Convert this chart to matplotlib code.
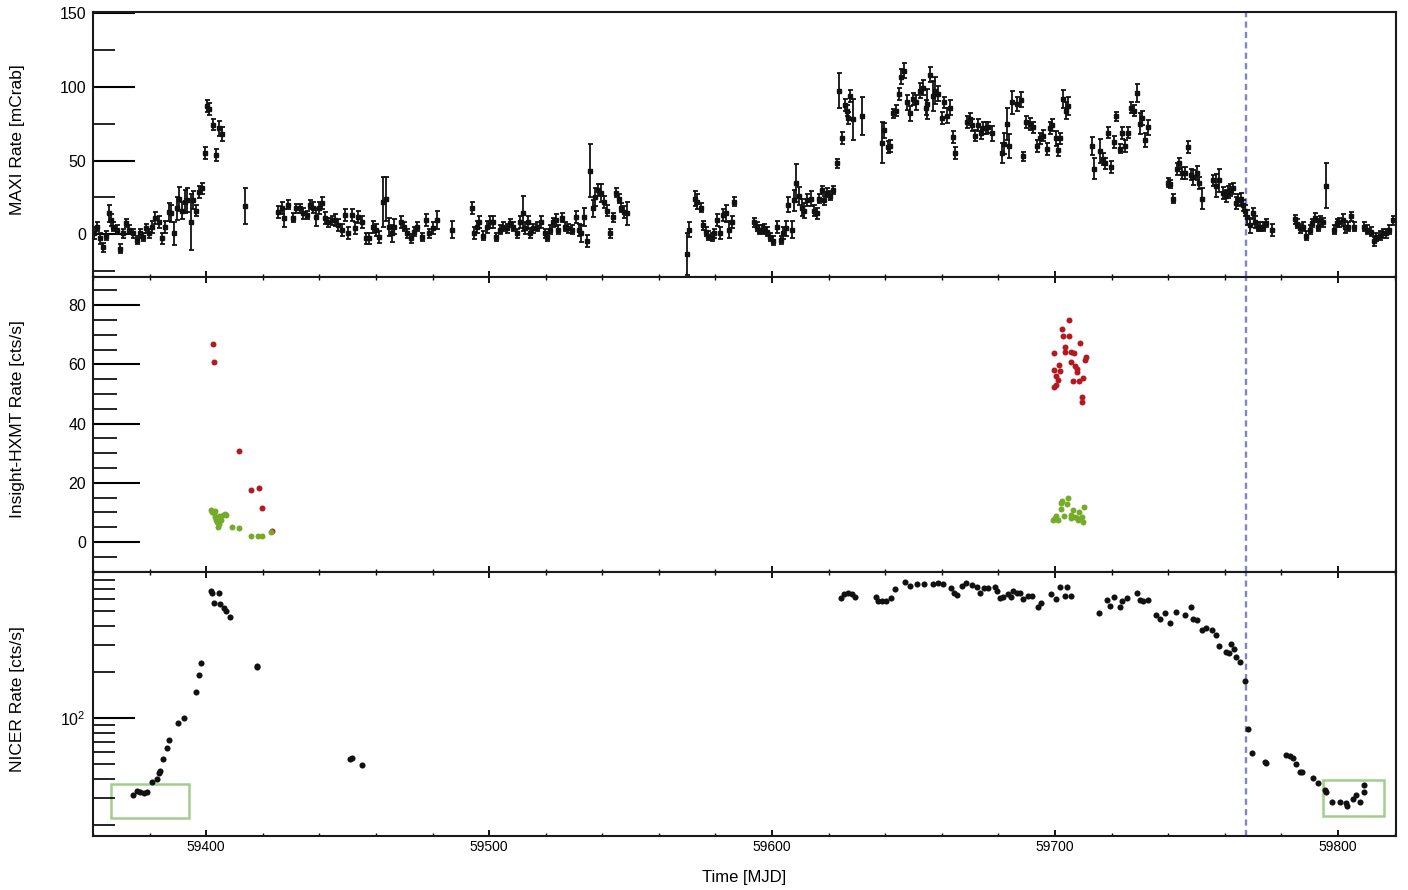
import matplotlib
matplotlib.use('Agg')
import matplotlib.pyplot as plt
from matplotlib.patches import Rectangle
from matplotlib.ticker import MultipleLocator, LogLocator, NullFormatter

plt.rcParams['font.family'] = ['Liberation Sans', 'DejaVu Sans']

# MAXI light curve (mCrab)
maxi_mjd = [
    59360.4, 59361.4, 59362.5, 59363.5, 59364.6, 59365.5, 59366.2, 59367.0, 59368.4, 59369.5,
    59370.5, 59371.7, 59372.8, 59374.0, 59375.4, 59376.6, 59377.5, 59378.7, 59379.9, 59380.8,
    59382.0, 59383.2, 59384.4, 59385.5, 59386.7, 59387.7, 59388.6, 59389.6, 59390.5, 59391.4,
    59392.4, 59393.3, 59394.5, 59395.4, 59396.4, 59397.6, 59398.5, 59399.6, 59400.4, 59401.1,
    59402.5, 59403.5, 59404.6, 59405.6, 59413.6,
    59425.5, 59426.7, 59427.5, 59429.0, 59430.6, 59431.7, 59433.1, 59434.3, 59435.5, 59436.7,
    59437.8, 59438.8, 59440.0, 59440.8, 59442.0, 59443.1, 59444.3, 59445.5, 59446.7, 59447.9,
    59449.0, 59450.2, 59451.4, 59452.6, 59453.7, 59454.9, 59456.5, 59457.6, 59458.8, 59460.0,
    59461.2, 59462.4, 59463.5, 59464.7, 59465.5, 59466.4, 59468.7, 59469.9, 59471.0, 59472.3,
    59473.4, 59474.6, 59476.1, 59477.7, 59478.8, 59480.0, 59481.4, 59486.7,
    59493.8, 59494.6, 59495.6, 59496.5, 59497.9, 59499.1, 59500.3, 59501.5, 59502.6, 59503.8,
    59505.0, 59506.2, 59507.3, 59508.5, 59509.7, 59510.9, 59511.8, 59512.6, 59513.6, 59514.6,
    59515.6, 59516.8, 59518.5, 59519.7, 59520.5, 59521.5, 59522.7, 59523.6, 59524.4, 59525.6,
    59526.8, 59528.0, 59529.4, 59530.7, 59531.8, 59532.5, 59533.7, 59534.7, 59535.6, 59536.6,
    59537.5, 59538.6, 59539.5, 59540.6, 59541.5, 59542.7, 59543.6, 59544.8, 59545.8, 59546.7,
    59547.6, 59548.6,
    59569.8, 59570.7, 59572.7, 59573.6, 59574.7, 59575.7, 59576.5, 59577.4, 59578.6, 59579.4,
    59580.6, 59581.6, 59582.7, 59583.7, 59584.6, 59585.7, 59586.7,
    59593.6, 59594.5, 59595.4, 59596.4, 59597.3, 59598.3, 59599.2, 59600.4, 59601.8, 59603.0,
    59603.9, 59604.9, 59605.7, 59606.9, 59607.7, 59608.6, 59609.6, 59610.5, 59611.3, 59612.2,
    59613.9, 59614.7, 59615.7, 59616.6, 59617.6, 59618.5, 59619.5, 59620.4, 59621.6, 59622.8,
    59623.7, 59624.7, 59625.6, 59626.3, 59627.0, 59627.7, 59628.7, 59631.6, 59638.7, 59639.6,
    59640.8, 59641.6, 59642.8, 59643.7, 59644.8, 59645.7, 59646.7, 59647.7, 59648.9, 59649.9,
    59650.8, 59652.2, 59653.2, 59654.3, 59654.9, 59655.8, 59656.7, 59657.6, 59658.6, 59659.9,
    59660.7, 59661.9, 59662.8, 59663.8, 59664.7, 59668.9, 59669.9, 59670.8, 59671.8, 59672.7,
    59673.7, 59674.6, 59675.5, 59676.4, 59677.8,
    59681.1, 59681.9, 59682.9, 59683.8, 59684.9, 59686.6, 59687.8, 59688.7, 59689.9, 59691.1,
    59692.3, 59693.8, 59694.6, 59695.8, 59697.0, 59698.2, 59699.1, 59700.3, 59701.1, 59701.9,
    59702.9, 59703.8, 59704.6, 59712.9, 59713.8, 59715.8, 59716.8, 59717.6, 59718.8, 59719.7,
    59720.8, 59721.7, 59722.9, 59723.8, 59724.7, 59725.7, 59726.9, 59727.8, 59728.8, 59729.9,
    59730.9, 59731.8, 59732.9,
    59740.0, 59740.8, 59741.8, 59743.0, 59743.9, 59745.0, 59745.9, 59746.9, 59747.9, 59748.8,
    59750.0, 59750.9, 59751.9, 59755.9, 59756.9, 59757.8, 59759.4, 59760.3, 59761.2, 59762.0,
    59762.9, 59763.9, 59764.7, 59765.6, 59766.5, 59767.3, 59768.0, 59768.8, 59769.8, 59770.7,
    59771.7, 59772.6, 59773.5, 59774.7, 59776.6, 59784.7, 59785.6, 59786.7, 59787.6, 59788.8,
    59790.0, 59790.9, 59791.8, 59792.8, 59793.7, 59794.6, 59795.8, 59798.7, 59799.5, 59800.5,
    59801.6, 59802.5, 59803.7, 59804.6, 59805.6, 59809.2, 59810.4, 59811.6, 59812.8, 59813.6,
    59814.7, 59815.9, 59817.0, 59818.2, 59819.4,
]
maxi_rate = [
    0.7, 5, -3, -9, -1, 14, 9.5, 5, 3, -10,
    0.5, 7.5, 3, 0.5, -4, 0.5, -2, 4, 0.5, 5,
    11, 8, -3, 5, 15, 14, 0.5, 17.5, 24, 16,
    22, 23, 8, 23, 16, 28.5, 31, 55, 87, 85,
    74.5, 54, 72, 68, 19,
    15, 17.5, 11, 20, 11, 17.5, 17.5, 14, 13, 20,
    18, 11.5, 17.5, 21, 11, 8, 9.5, 9.5, 6, 3,
    13, 0.5, 13, 4, 11.5, 8, -3, -3, 5, 3,
    -2, 22, 24, 5, 0.5, 5, 8, 5, 0.5, -3,
    1.5, 5, -2, 9.5, 0.5, 4, 9.5, 3,
    17.5, 0.5, 5, 8, -1, 5, 8, 8, -2, 3,
    5, 4, 7.5, 5, 0.5, 8, 14, 4, 8, 0.5,
    4, 5, 8, 0.5, -2, 3, 8, 9.5, 3, 11,
    5, 4, 3, 11.5, 3, 0.5, 11.5, -4.5, 43, 17.5,
    25, 30, 28, 22, 16, 0.5, 11.5, 28, 24, 18,
    15, 14,
    -13.5, 3, 24, 22, 18, 6, 1.5, -1, -2, 0.5,
    9.5, 0.5, 13, 14, 3, 8, 22,
    8, 5, 3, 3, 4, 1.5, -2, -4.5, 5, -4,
    0.5, 4, 20, 3, 23, 34.5, 26, 18, 16, 23,
    24, 16, 14, 24, 30, 23, 28, 26, 30, 48,
    97.5, 65.5, 88, 84, 79, 94, 78, 80.5, 62, 70.5,
    59, 60, 82, 84, 95.5, 107, 111, 89.5, 82, 92,
    89.5, 97.5, 99.5, 86, 88.5, 108.5, 94, 97.5, 95.5, 79,
    89.5, 80.5, 86, 66, 55, 76, 78.5, 74, 67, 74,
    68.5, 72, 72, 72.5, 68.5,
    55, 61.5, 75, 60, 89.5, 88.5, 91.5, 53, 76, 75,
    72.5, 60, 65, 67, 58, 72, 74, 65, 57, 65,
    92, 84, 87, 60, 44.5, 56.5, 51, 48, 69, 45.5,
    62.5, 80, 58, 68.5, 60, 69, 86, 84, 96, 75,
    79, 64, 72.5,
    35, 34, 24, 44.5, 48, 41.5, 41.5, 59, 40.5, 38.5,
    41.5, 34.5, 24, 36.5, 33, 36.5, 28, 26, 28.5, 30,
    31, 21, 23, 24, 19.5, 16, 11.5, 6, 14, 8,
    5, 5, 5, 7.5, 3, 10, 7, 4, 5, -1,
    3, 7.5, 11, 5, 9.5, 8, 33, 3, 7.5, 8,
    9.5, 5, 5, 12, 5, 5, 3, 1.5, -5, -2,
    -1, 0.5, 0.5, 3, 9.5,
]
maxi_err = [
    4, 3, 4, 3, 3, 6, 4, 3, 3, 3,
    3, 3, 3, 3, 3, 3, 3, 3, 3, 4,
    4, 4, 4, 4, 6, 6, 8, 8, 8, 6,
    8, 8, 19, 6, 4, 4, 4, 4, 4, 4,
    4, 4, 5, 5, 12,
    4, 4, 6, 3, 3, 3, 3, 4, 3, 3,
    4, 6, 4, 4, 4, 3, 3, 4, 4, 4,
    4, 4, 4, 4, 4, 4, 4, 4, 4, 4,
    4, 17, 15, 6, 6, 5, 4, 3, 3, 3,
    3, 3, 3, 4, 3, 4, 6, 6,
    4, 4, 4, 4, 3, 4, 4, 4, 3, 3,
    3, 3, 3, 3, 3, 4, 12, 4, 4, 3,
    3, 3, 4, 3, 3, 3, 3, 4, 3, 3,
    3, 3, 3, 4, 4, 6, 6, 4, 18, 6,
    6, 4, 6, 4, 4, 3, 3, 3, 3, 3,
    4, 8,
    14, 5, 5, 5, 3, 3, 3, 3, 3, 3,
    4, 4, 4, 6, 6, 4, 3,
    3, 3, 3, 3, 3, 3, 3, 3, 4, 3,
    4, 5, 5, 6, 7, 13, 6, 6, 5, 4,
    5, 4, 4, 3, 3, 3, 3, 3, 3, 3,
    12, 4, 4, 4, 4, 4, 14, 13, 14, 5,
    4, 4, 3, 4, 4, 5, 5, 5, 5, 4,
    5, 5, 5, 5, 10, 5, 10, 9, 5, 4,
    4, 5, 5, 4, 4, 4, 4, 4, 4, 4,
    4, 4, 4, 4, 5,
    7, 7, 11, 8, 8, 5, 5, 3, 4, 4,
    4, 4, 4, 4, 4, 4, 4, 5, 4, 4,
    6, 6, 6, 6, 7, 8, 4, 4, 4, 4,
    4, 3, 3, 4, 4, 4, 4, 4, 6, 7,
    5, 5, 5,
    3, 3, 3, 4, 4, 4, 4, 4, 4, 5,
    5, 4, 7, 4, 8, 8, 4, 4, 4, 4,
    4, 4, 4, 4, 4, 4, 5, 5, 4, 4,
    3, 3, 3, 3, 4, 3, 3, 3, 3, 3,
    3, 3, 3, 3, 3, 3, 15, 3, 3, 3,
    4, 4, 3, 3, 3, 3, 3, 3, 3, 3,
    3, 3, 3, 3, 3,
]

# Insight-HXMT rates (cts/s)
hxmt_red_mjd = [59402.3, 59402.8, 59411.7, 59415.7, 59418.5, 59419.7, 59423.1,
                59699.6, 59699.6, 59699.7, 59700.3, 59700.5, 59701.0, 59701.5, 59701.7,
                59702.3, 59702.9, 59703.6, 59703.6, 59704.8, 59705.0, 59705.5, 59705.8,
                59706.4, 59706.7, 59707.0, 59707.6, 59707.8, 59708.5, 59708.8, 59709.6,
                59709.6, 59709.9, 59710.5, 59710.9]
hxmt_red_rate = [66.9, 60.7, 30.8, 17.6, 18.3, 11.4, 3.8,
                 63.7, 58.1, 52.3, 53.0, 56.1, 54.7, 59.8, 57.8,
                 71.8, 69.6, 65.8, 64.2, 75.0, 69.6, 60.9, 64.3,
                 54.5, 64.0, 59.5, 57.5, 58.3, 54.5, 67.3, 48.9,
                 47.4, 55.3, 61.5, 62.4]
hxmt_green_mjd = [59401.8, 59402.2, 59402.6, 59403.0, 59403.2, 59403.5, 59403.8, 59404.1,
                  59404.4, 59404.7, 59405.3, 59405.8, 59406.6, 59407.1, 59409.2, 59411.7,
                  59415.7, 59418.3, 59419.6, 59422.8,
                  59699.3, 59699.9, 59700.5, 59701.1, 59702.0, 59702.1, 59702.6, 59703.1,
                  59704.4, 59704.6, 59705.5, 59705.8, 59706.4, 59707.0, 59707.6, 59708.2,
                  59708.5, 59709.4, 59709.8, 59710.3]
hxmt_green_rate = [11.0, 10.3, 9.8, 10.5, 8.5, 7.5, 6.8, 5.2,
                   6.2, 8.8, 7.6, 9.0, 9.6, 9.2, 5.1, 4.7,
                   2.0, 2.0, 2.0, 3.3,
                   7.4, 8.0, 8.8, 7.4, 11.1, 13.1, 14.0, 8.8,
                   12.8, 14.8, 8.0, 9.1, 10.8, 8.5, 8.0, 7.4,
                   10.2, 8.5, 6.9, 11.7]

# NICER rates (cts/s)
nicer_mjd = [
    59374.0, 59375.4, 59376.6, 59378.0, 59379.2, 59380.8, 59382.5, 59383.2, 59383.7, 59384.9,
    59386.0, 59386.9, 59390.1, 59392.0, 59396.4, 59397.6, 59398.1, 59401.6, 59402.2, 59402.8,
    59404.5, 59404.8, 59406.3, 59407.0, 59408.3, 59418.1, 59418.1, 59450.7, 59451.5, 59455.0,
    59624.3, 59625.4, 59626.9, 59628.1, 59629.3, 59636.6, 59637.3, 59638.7, 59640.4, 59641.9,
    59643.4, 59647.0, 59648.7, 59651.3, 59653.6, 59656.9, 59658.7, 59660.5, 59663.1, 59664.2,
    59665.2, 59667.0, 59668.5, 59670.5, 59672.3, 59673.4, 59674.8, 59676.4, 59678.7, 59679.6,
    59680.5, 59681.7, 59683.4, 59684.3, 59685.2, 59686.6, 59687.6, 59688.7, 59690.5, 59692.0,
    59694.0, 59695.2, 59698.4, 59700.3, 59701.9, 59703.5, 59704.1, 59705.8, 59715.6, 59718.2,
    59719.5, 59720.8, 59722.8, 59723.8, 59725.3, 59728.8, 59729.9, 59731.2, 59733.0, 59735.8,
    59737.0, 59739.0, 59740.6, 59742.8, 59745.8, 59747.9, 59748.8, 59750.0, 59751.8, 59753.5,
    59755.6, 59756.8, 59758.0, 59760.3, 59761.5, 59762.3, 59763.1, 59764.1, 59765.2, 59767.2,
    59768.1, 59769.7, 59774.1, 59774.6, 59781.7, 59782.9, 59784.1, 59785.3, 59786.4, 59787.4,
    59791.1, 59792.9, 59795.3, 59795.9, 59797.8, 59800.8, 59803.0, 59803.2, 59805.3, 59806.5,
    59807.7, 59809.1, 59809.2,
]
nicer_rate = [
    31.1, 33.4, 33.0, 32.2, 32.8, 38.0, 39.9, 43.5, 44.9, 54.2,
    63.4, 72.1, 92.2, 100, 148, 190, 230, 673, 659, 567,
    659, 559, 521, 498, 455, 219, 214, 54.2, 55.0, 49.5,
    606, 646, 659, 646, 621, 621, 585, 585, 585, 606,
    693, 778, 729, 751, 751, 751, 759, 751, 705, 659,
    637, 729, 759, 740, 721, 659, 705, 705, 721, 679,
    606, 621, 646, 615, 679, 659, 653, 597, 627, 627,
    533, 562, 646, 597, 715, 627, 715, 627, 483, 590,
    539, 620, 529, 580, 606, 653, 590, 585, 588, 471,
    445, 483, 418, 495, 471, 529, 442, 437, 376, 386,
    376, 349, 296, 271, 265, 305, 281, 249, 233, 175,
    84.4, 58.7, 51.8, 51.0, 57.3, 56.5, 54.6, 50.0, 44.6, 44.4,
    40.4, 37.4, 33.8, 32.8, 28.4, 28.1, 27.7, 26.7, 29.4, 31.4,
    28.4, 33.0, 36.5,
]

marker_mjd = 59767.5
# highlighted boxes: (mjd_lo, mjd_hi, rate_lo, rate_hi)
box_early = (59366.4, 59393.9, 22.2, 37.0)
box_late = (59794.6, 59816.2, 22.9, 39.3)

fig = plt.figure(figsize=(14.08, 8.90), dpi=100)
left, width = 93 / 1408, 1303 / 1408
ax1 = fig.add_axes([left, 1 - 277 / 890, width, 265 / 890])
ax2 = fig.add_axes([left, 1 - 572 / 890, width, 295 / 890], sharex=ax1)
ax3 = fig.add_axes([left, 1 - 836 / 890, width, 264 / 890], sharex=ax1)

ax1.errorbar(maxi_mjd, maxi_rate, yerr=maxi_err, fmt='s', color='#111111',
             markersize=3.4, elinewidth=1.3, capsize=1.8, capthick=1.3)
ax1.set_ylim(-29.2, 151)
ax1.yaxis.set_major_locator(MultipleLocator(50))
ax1.yaxis.set_minor_locator(MultipleLocator(25))
ax1.set_ylabel('MAXI Rate [mCrab]', fontsize=12.5)

ax2.plot(hxmt_red_mjd, hxmt_red_rate, 'o', color='#b3191f', markersize=4.3, mec='none')
ax2.plot(hxmt_green_mjd, hxmt_green_rate, 'o', color='#74ac2a', markersize=4.3, mec='none')
ax2.set_ylim(-10.1, 89.5)
ax2.yaxis.set_major_locator(MultipleLocator(20))
ax2.yaxis.set_minor_locator(MultipleLocator(5))
ax2.set_ylabel('Insight-HXMT Rate [cts/s]', fontsize=12.5)

ax3.plot(nicer_mjd, nicer_rate, 'o', color='#111111', markersize=4.4, mec='none')
ax3.set_yscale('log')
ax3.set_ylim(16.9, 900)
ax3.yaxis.set_major_locator(LogLocator(base=10))
ax3.yaxis.set_minor_locator(LogLocator(base=10, subs=range(2, 10)))
ax3.yaxis.set_minor_formatter(NullFormatter())
ax3.set_ylabel('NICER Rate [cts/s]', fontsize=12.5)
for b in (box_early, box_late):
    ax3.add_patch(Rectangle((b[0], b[2]), b[1] - b[0], b[3] - b[2], fill=False,
                            edgecolor='#a2cd8e', linewidth=1.8, zorder=1))
ax3.set_xlim(59360, 59820.5)
ax3.xaxis.set_major_locator(MultipleLocator(100))
ax3.xaxis.set_minor_locator(MultipleLocator(20))
ax3.set_xlabel('Time [MJD]', fontsize=12)
ax3.xaxis.set_label_coords(0.5, -0.13)

ylens = {ax1: (30, 15.5), ax2: (34, 17), ax3: (30.5, 15.5)}
for ax in (ax1, ax2, ax3):
    ax.axvline(marker_mjd, color='#8282c8', linewidth=1.7, linestyle=(0, (2.6, 1.8)), zorder=0)
    for s in ax.spines.values():
        s.set_linewidth(1.5)
        s.set_color('#1a1a1a')
    ax.tick_params(axis='x', which='major', direction='in', length=4.5, width=1.3,
                   top=True, bottom=True, labelbottom=False, labelsize=10, pad=3)
    ax.tick_params(axis='x', which='minor', direction='in', length=2.5, width=1.0,
                   top=True, bottom=True)
    ax.tick_params(axis='y', which='major', direction='in', length=ylens[ax][0], width=1.5,
                   right=False, labelsize=11.5, pad=5)
    ax.tick_params(axis='y', which='minor', direction='in', length=ylens[ax][1], width=1.2,
                   right=False)
    ax.yaxis.set_label_coords(-0.052, 0.52)

ax1.tick_params(axis='x', which='both', top=False)
ax3.tick_params(axis='x', which='major', labelbottom=True)

fig.savefig('out.png', dpi=100)
